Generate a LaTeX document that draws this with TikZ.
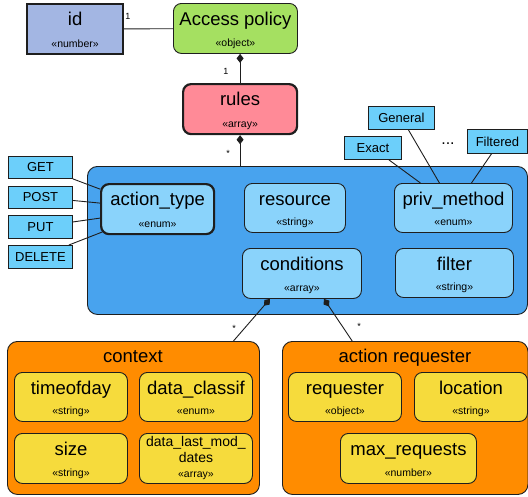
\documentclass[tikz,border=0pt]{standalone}
\usepackage{fontspec}
\setmainfont{Liberation Sans}
\usetikzlibrary{arrows.meta}
\definecolor{linec}{HTML}{1E1E1E}
\definecolor{idfill}{HTML}{A3B6E3}
\definecolor{apfill}{HTML}{A5E061}
\definecolor{rulesfill}{HTML}{FF8A97}
\definecolor{bigfill}{HTML}{48A3EE}
\definecolor{innerfill}{HTML}{8AD3FB}
\definecolor{lblfill}{HTML}{6CCFFA}
\definecolor{orangefill}{HTML}{FF8C00}
\definecolor{yellowfill}{HTML}{F6DB3C}
\newcommand\ubox[8]{%
  \node[#2, anchor=north west, minimum width=#5pt, minimum height=#6pt] (#1) at (#3,#4) {};
  \node[titletext] (#1-t) at ([yshift=-22.5pt]#1.north) {#7};
  \node[typetext] (#1-s) at ([yshift=7.5pt]#1.south) {#8};
}
\begin{document}
\begin{tikzpicture}[x=1pt,y=-1pt,
  box/.style={draw=linec, line width=0.9pt, rounded corners=8pt, inner sep=0pt},
  thickbox/.style={box, line width=2.2pt},
  titletext/.style={inner sep=0pt, anchor=base, font=\fontsize{18.5}{18.5}\selectfont},
  typetext/.style={inner sep=0pt, anchor=base, font=\fontsize{10.5}{10.5}\selectfont},
  lbl/.style={draw=linec, fill=lblfill, line width=0.9pt, inner sep=0pt, anchor=north west, font=\fontsize{13}{13}\selectfont},
  conn/.style={draw=linec, line width=0.9pt},
  comp/.style={conn, {Diamond[length=9pt,width=7pt]}-},
  mult/.style={inner sep=0pt, font=\fontsize{9}{9}\selectfont}]
\useasboundingbox (0,0) rectangle (528,496);

% top
\ubox{id}{thickbox, fill=idfill, rounded corners=0pt}{26}{3}{96}{50}{id}{«number»}
\ubox{ap}{box, fill=apfill}{173}{3}{124}{50}{Access policy}{«object»}
\ubox{rules}{thickbox, fill=rulesfill}{182}{83}{114}{50}{rules}{«array»}
\draw[conn] (id) -- (ap);
\node[mult] (m1) at (128,16) {1};

% big box
\node[box, fill=bigfill, rounded corners=10pt, anchor=north west, minimum width=440pt, minimum height=148pt] (big) at (87,166) {};
\draw[comp] (rules.north |- ap.south) -- (rules.north);
\node[mult] (m2) at (226,71) {1};
\draw[comp] (rules.south) -- (rules.south |- big.north);
\node[mult] (m3) at (228,153) {*};

\ubox{act}{thickbox, fill=innerfill}{100}{183}{113}{50}{action\_type}{«enum»}
\ubox{res}{box, fill=innerfill}{244}{183}{101}{49}{resource}{«string»}
\ubox{priv}{box, fill=innerfill}{394}{183}{118}{49}{priv\_method}{«enum»}
\ubox{cond}{box, fill=innerfill}{242}{248}{119}{50}{conditions}{«array»}
\ubox{filt}{box, fill=innerfill}{395}{248}{118}{49}{filter}{«string»}

% method labels
\node[lbl, minimum width=64pt, minimum height=22pt] (get) at (8,156) {GET};
\node[lbl, minimum width=64pt, minimum height=22pt] (post) at (8,186) {POST};
\node[lbl, minimum width=64pt, minimum height=23pt] (put) at (8,215) {PUT};
\node[lbl, minimum width=64pt, minimum height=23pt] (del) at (8,245) {DELETE};
\draw[conn] (get.south east) -- ([yshift=20pt]act.west);
\draw[conn] ([yshift=-3pt]post.east) -- ([yshift=6pt]act.west);
\draw[conn] ([yshift=5pt]put.east) -- ([yshift=-9pt]act.west);
\draw[conn] ([xshift=-4pt]del.north east) -- ([xshift=2pt,yshift=-23pt]act.west);

% privacy labels
\node[lbl, minimum width=57pt, minimum height=23pt] (exact) at (344,136) {Exact};
\node[lbl, minimum width=66pt, minimum height=23pt] (general) at (368,106) {General};
\node[lbl, minimum width=60pt, minimum height=24pt] (filtered) at (467,129) {Filtered};
\node[inner sep=0pt, font=\fontsize{16}{16}\selectfont] (dots) at (448,144) {...};
\draw[conn] ([xshift=16pt]exact.south) -- ([xshift=-33pt]priv.north);
\draw[conn] ([xshift=7pt]general.south) -- ([xshift=-14pt]priv.north);
\draw[conn] ([xshift=-6pt]filtered.south) -- ([xshift=18pt]priv.north);

% context
\node[box, fill=orangefill, rounded corners=10pt, anchor=north west, minimum width=252pt, minimum height=153pt] (ctx) at (7,341) {};
\node[titletext] (ctx-t) at (133,362) {context};
\node[box, fill=orangefill, rounded corners=10pt, anchor=north west, minimum width=245.5pt, minimum height=153pt] (areq) at (282,341) {};
\node[titletext] (areq-t) at (405,362) {action requester};

\draw[comp] ([xshift=-32pt]cond.south) -- ([xshift=100pt]ctx.north);
\node[mult] (m4) at (234,328) {*};
\draw[comp] ([xshift=22pt]cond.south) -- ([xshift=-53pt]areq.north);
\node[mult] (m5) at (359,326) {*};

\ubox{tod}{box, fill=yellowfill}{14}{372}{113}{49}{timeofday}{«string»}
\ubox{dcl}{box, fill=yellowfill}{139}{372}{113}{49}{data\_classif}{«enum»}
\ubox{size}{box, fill=yellowfill}{14}{433}{113}{50}{size}{«string»}
\node[box, fill=yellowfill, anchor=north west, minimum width=113pt, minimum height=50pt] (dlm) at (139,433) {};
\node[inner sep=0pt, anchor=base, font=\fontsize{14}{14}\selectfont] (dlm-t1) at ([yshift=-13pt]dlm.north) {data\_last\_mod\_};
\node[inner sep=0pt, anchor=base, font=\fontsize{14}{14}\selectfont] (dlm-t2) at ([yshift=-29pt]dlm.north) {dates};
\node[typetext] (dlm-s) at ([yshift=6.5pt]dlm.south) {«array»};

\ubox{req}{box, fill=yellowfill}{288}{372}{113}{49}{requester}{«object»}
\ubox{loc}{box, fill=yellowfill}{414}{372}{113}{49}{location}{«string»}
\ubox{maxr}{box, fill=yellowfill}{340}{433}{136}{50}{max\_requests}{«number»}
\end{tikzpicture}
\end{document}
